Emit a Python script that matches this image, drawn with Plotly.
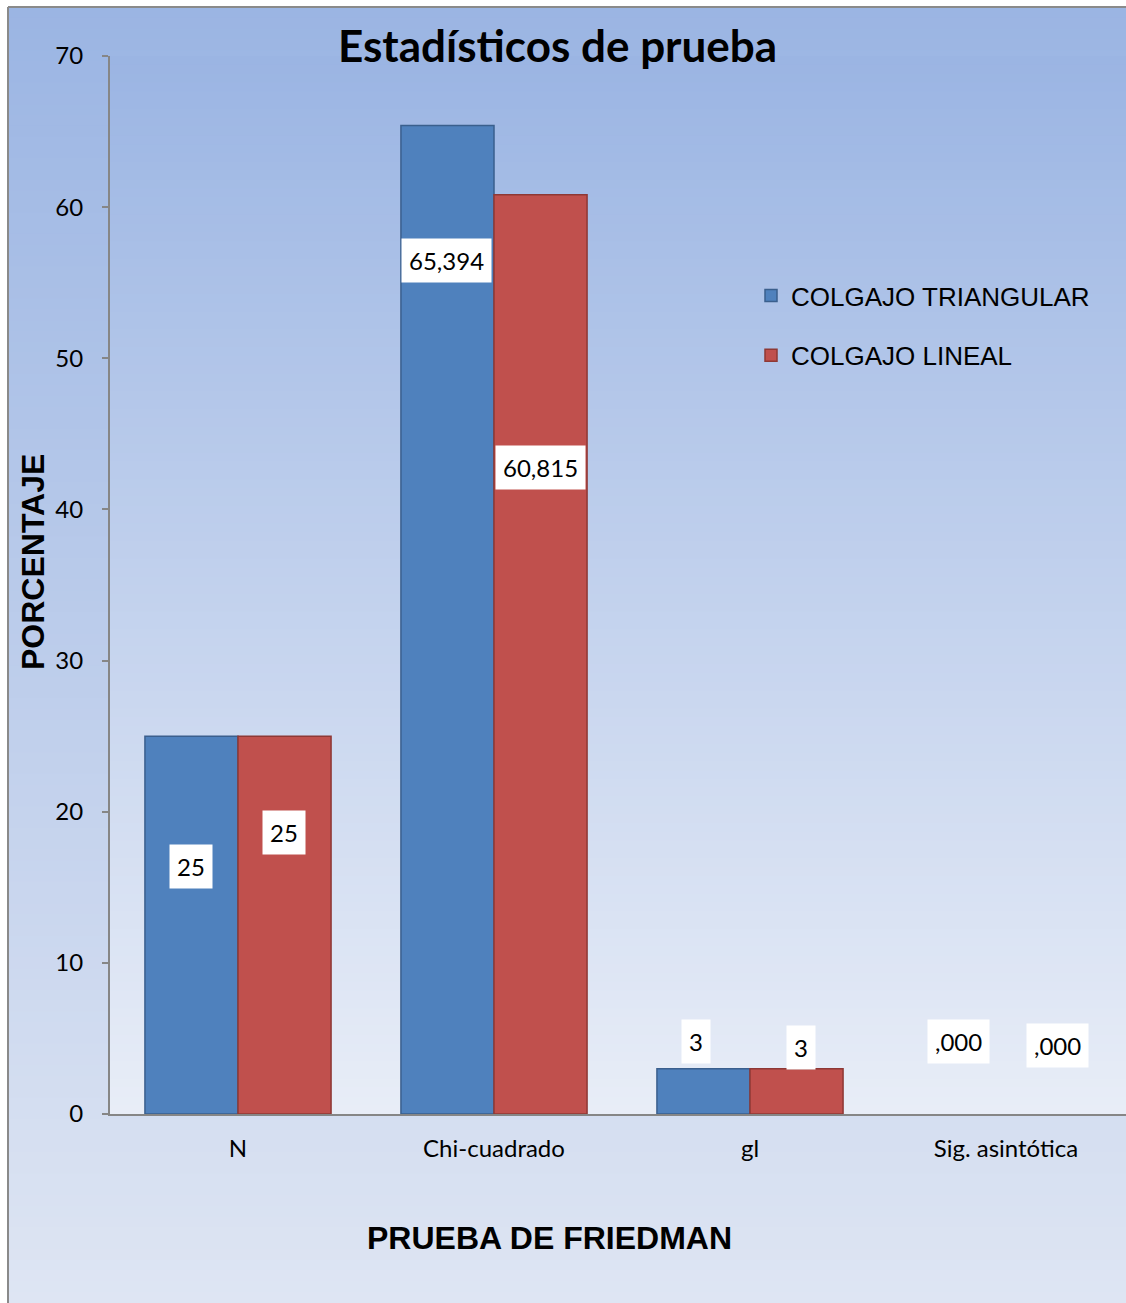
import plotly.graph_objects as go

# Friedman test statistics per flap technique
categories = ["N", "Chi-cuadrado", "gl", "Sig. asintótica"]
triangular = [25, 65.394, 3, 0.000]
lineal = [25, 60.815, 3, 0.000]
series_names = ["COLGAJO TRIANGULAR", "COLGAJO LINEAL"]

# Value label text (comma decimal) and where each label box sits
triangular_text = ["25", "65,394", "3", ",000"]
lineal_text = ["25", "60,815", "3", ",000"]
triangular_label_y = [16.4, 56.5, 4.8, 4.8]
lineal_label_y = [18.6, 42.8, 4.4, 4.5]
triangular_label_dx = [-0.184, -0.184, -0.211, -0.184]
lineal_label_dx = [0.180, 0.180, 0.200, 0.203]

W, H = 1126, 1303
L, T, R, B = 110, 56, 1126, 1114  # plot area in pixels


def px(x):
    return (x - L) / (R - L)


def py(y):
    return (B - y) / (B - T)


def mix(c0, c1, t):
    return "rgb({},{},{})".format(*[round(a + (b - a) * t) for a, b in zip(c0, c1)])


shapes = []
# outer chart-area gradient
top_c, bot_c = (155, 181, 227), (222, 229, 243)
n = 120
y0, y1 = 7, H
for i in range(n):
    a = y0 + (y1 - y0) * i / n
    b = y0 + (y1 - y0) * (i + 1) / n + 1
    shapes.append(dict(type="rect", xref="paper", yref="paper", layer="below",
                       x0=px(8), x1=px(W + 2), y0=py(a), y1=py(b),
                       fillcolor=mix(top_c, bot_c, i / (n - 1)), line=dict(width=0)))
# plot-area gradient
ptop, pbot = (155, 181, 227), (232, 237, 247)
for i in range(n):
    a = T + (B - T) * i / n
    b = T + (B - T) * (i + 1) / n + 1
    shapes.append(dict(type="rect", xref="paper", yref="paper", layer="below",
                       x0=0, x1=1, y0=py(a), y1=py(min(b, B)),
                       fillcolor=mix(ptop, pbot, i / (n - 1)), line=dict(width=0)))
# chart border (left and top edges)
shapes.append(dict(type="line", xref="paper", yref="paper", layer="below",
                   x0=px(8), x1=px(8), y0=py(7), y1=py(H + 5),
                   line=dict(color="#8a8a8a", width=2)))
shapes.append(dict(type="line", xref="paper", yref="paper", layer="below",
                   x0=px(8), x1=px(W + 5), y0=py(7), y1=py(7),
                   line=dict(color="#8a8a8a", width=2)))


def outline_widths(values):
    # zero-height bars get no outline so nothing shows on the baseline
    return [1.5 if v > 0 else 0 for v in values]


fig = go.Figure()
fig.add_trace(go.Bar(x=list(range(len(categories))), y=triangular, name=series_names[0],
                     marker=dict(color="#4f81bd",
                                 line=dict(color="#3a5f8d", width=outline_widths(triangular))),
                     legendgroup="a"))
fig.add_trace(go.Bar(x=list(range(len(categories))), y=lineal, name=series_names[1],
                     marker=dict(color="#c0504d",
                                 line=dict(color="#8e3835", width=outline_widths(lineal))),
                     legendgroup="b"))

annotations = []
label_font = dict(family="Lato, Carlito, sans-serif", size=24, color="#000000")
for i in range(len(categories)):
    for txt, yv, dx in ((triangular_text[i], triangular_label_y[i], triangular_label_dx[i]),
                        (lineal_text[i], lineal_label_y[i], lineal_label_dx[i])):
        annotations.append(dict(x=i + dx, y=yv, xref="x", yref="y", text=txt,
                                showarrow=False, bgcolor="#ffffff", borderpad=7,
                                font=label_font))

annotations.append(dict(x=px(557), y=py(45), xref="paper", yref="paper",
                        text="<b>Estadísticos de prueba</b>", showarrow=False,
                        xanchor="center", yanchor="middle",
                        font=dict(family="Lato, sans-serif", size=44, color="#000000")))
annotations.append(dict(x=px(549), y=py(1238), xref="paper", yref="paper",
                        text="<b>PRUEBA DE FRIEDMAN</b>", showarrow=False,
                        xanchor="center", yanchor="middle",
                        font=dict(family="Liberation Sans, Arial, sans-serif", size=32, color="#000000")))
annotations.append(dict(x=px(33), y=py(562), xref="paper", yref="paper",
                        text="<b>PORCENTAJE</b>", showarrow=False, textangle=-90,
                        xanchor="center", yanchor="middle",
                        font=dict(family="Liberation Sans, Arial, sans-serif", size=32, color="#000000")))

fig.update_layout(
    width=W, height=H,
    margin=dict(l=L, r=W - R, t=T, b=H - B, pad=0),
    paper_bgcolor="#ffffff",
    plot_bgcolor="rgba(0,0,0,0)",
    barmode="group", bargap=0.273, bargroupgap=0,
    shapes=shapes,
    annotations=annotations,
    showlegend=True,
    legend=dict(x=px(751), y=py(272), xanchor="left", yanchor="top",
                bgcolor="rgba(0,0,0,0)", borderwidth=0,
                font=dict(family="Liberation Sans, Arial, sans-serif", size=26, color="#000000"),
                tracegroupgap=23, itemwidth=30, traceorder="grouped"),
    xaxis=dict(
        tickmode="array", tickvals=list(range(len(categories))), ticktext=categories,
        range=[-0.5, 3.5 - 8 / 256],
        showline=True, linecolor="#868686", linewidth=2,
        ticks="", showgrid=False, zeroline=False,
        tickfont=dict(family="Lato, Carlito, sans-serif", size=24, color="#000000"),
        ticklabelstandoff=12,
    ),
    yaxis=dict(
        range=[0, 70], dtick=10, tick0=0,
        showline=True, linecolor="#868686", linewidth=2,
        ticks="outside", ticklen=6, tickcolor="#868686", tickwidth=2,
        showgrid=False, zeroline=False,
        tickfont=dict(family="Lato, Carlito, sans-serif", size=24, color="#000000"),
        ticklabelstandoff=14,
    ),
)

fig.write_html("out.html")
